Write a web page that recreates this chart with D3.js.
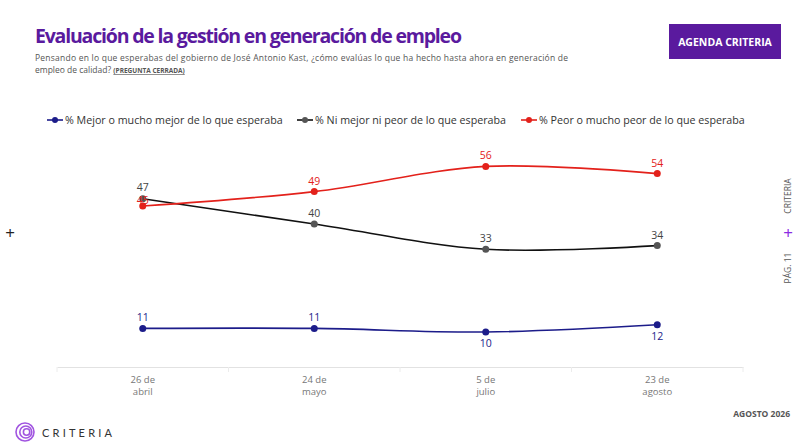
<!DOCTYPE html>
<html>
<head>
<meta charset="utf-8">
<script src="https://cdn.jsdelivr.net/npm/d3@7"></script>
<style>
  html, body { margin: 0; padding: 0; background: #fff; }
  svg { display: block; font-family: "Open Sans", sans-serif; }
</style>
</head>
<body>
<div id="chart"></div>
<script>
// datos
const fechas = ["26 de|abril", "24 de|mayo", "5 de|julio", "23 de|agosto"];
const mejor = [11, 11, 10, 12];
const niMejor = [47, 40, 33, 34];
const peor = [45, 49, 56, 54];
const nombresSeries = [
  "% Mejor o mucho mejor de lo que esperaba",
  "% Ni mejor ni peor de lo que esperaba",
  "% Peor o mucho peor de lo que esperaba"
];

const width = 800, height = 448;
const purple = "#5a1a9e";

// estilo de cada serie; labelDy = desplazamiento de la etiqueta respecto al punto
const series = [
  { name: nombresSeries[0], values: mejor, line: "#1c1c8a", dot: "#1c1c8a", label: "#1c1c8a", labelDy: [-7, -7, 15, 15] },
  { name: nombresSeries[1], values: niMejor, line: "#111", dot: "#555", label: "#444", labelDy: [-8, -7, -7, -7] },
  { name: nombresSeries[2], values: peor, line: "#e3211b", dot: "#e3211b", label: "#e3211b", labelDy: [-2, -7, -7, -7] }
];

const svg = d3.select("#chart").append("svg")
  .attr("width", width)
  .attr("height", height);

// titulo
svg.append("text")
  .attr("x", 35).attr("y", 43)
  .style("font-size", "19.5px").style("font-weight", "700")
  .style("fill", purple)
  .attr("textLength", 427)
  .text("Evaluación de la gestión en generación de empleo");

svg.append("text")
  .attr("x", 35).attr("y", 61)
  .style("font-size", "8.5px").style("fill", "#555")
  .attr("textLength", 533)
  .text("Pensando en lo que esperabas del gobierno de José Antonio Kast, ¿cómo evalúas lo que ha hecho hasta ahora en generación de");

const sub2 = svg.append("text")
  .attr("x", 35).attr("y", 73)
  .style("font-size", "8.5px").style("fill", "#555");
sub2.append("tspan").text("empleo de calidad? ");
sub2.append("tspan")
  .style("font-size", "6.5px").style("font-weight", "700")
  .style("text-decoration", "underline")
  .text("(PREGUNTA CERRADA)");

// caja agenda
svg.append("rect")
  .attr("x", 669).attr("y", 24).attr("width", 112).attr("height", 35)
  .style("fill", purple);
svg.append("text")
  .attr("x", 725).attr("y", 46)
  .attr("text-anchor", "middle")
  .style("font-size", "10.5px").style("font-weight", "700").style("fill", "#fff")
  .text("AGENDA CRITERIA");

// escalas
const x = d3.scaleBand().domain(fechas).range([57, 743]);
const y = d3.scaleLinear().domain([0, 60]).range([368, 152]);

// eje x
const axis = svg.append("g")
  .attr("transform", "translate(0,367)")
  .call(d3.axisBottom(x).tickSize(0).tickFormat(""));
axis.select(".domain").attr("stroke", "#e2e2e2");

svg.selectAll(".sep")
  .data(d3.range(fechas.length + 1))
  .enter().append("line")
  .attr("x1", d => 57 + d * x.step()).attr("x2", d => 57 + d * x.step())
  .attr("y1", 367).attr("y2", 372)
  .attr("stroke", "#ececec");

fechas.forEach(f => {
  const t = svg.append("text")
    .attr("x", x(f) + x.bandwidth() / 2).attr("y", 383)
    .attr("text-anchor", "middle")
    .style("font-size", "9.5px").style("fill", "#777");
  f.split("|").forEach((p, i) => {
    t.append("tspan").attr("x", x(f) + x.bandwidth() / 2).attr("dy", i ? 12 : 0).text(p);
  });
});

const cx = i => x(fechas[i]) + x.bandwidth() / 2;
const line = d3.line()
  .x((d, i) => cx(i))
  .y(d => y(d))
  .curve(d3.curveCatmullRom.alpha(0.5));

// lineas, puntos, etiquetas
series.forEach(s => {
  svg.append("path")
    .datum(s.values)
    .attr("d", line)
    .attr("fill", "none")
    .attr("stroke", s.line)
    .attr("stroke-width", 1.6);

  svg.selectAll(null)
    .data(s.values)
    .enter().append("circle")
    .attr("cx", (d, i) => cx(i))
    .attr("cy", d => y(d))
    .attr("r", 3.5)
    .attr("fill", s.dot);

  svg.selectAll(null)
    .data(s.values)
    .enter().append("text")
    .attr("x", (d, i) => cx(i))
    .attr("y", (d, i) => y(d) + s.labelDy[i])
    .attr("text-anchor", "middle")
    .style("font-size", "10.5px")
    .style("fill", s.label)
    .text(d => d);
});

// leyenda
const legendX = [47, 297, 521];
series.forEach((s, i) => {
  const g = svg.append("g").attr("transform", "translate(" + legendX[i] + ",120)");
  g.append("line").attr("x1", 0).attr("x2", 16).attr("y1", 0).attr("y2", 0)
    .attr("stroke", s.line).attr("stroke-width", 1.6);
  g.append("circle").attr("cx", 8).attr("cy", 0).attr("r", 3).attr("fill", s.dot);
  g.append("text").attr("x", 18).attr("y", 4)
    .style("font-size", "10.7px").style("fill", "#333")
    .text(s.name);
});

// margenes
svg.append("text").attr("x", 10).attr("y", 239).attr("text-anchor", "middle")
  .style("font-size", "17px").style("fill", "#222").text("+");
svg.append("text").attr("x", 788).attr("y", 239).attr("text-anchor", "middle")
  .style("font-size", "17px").style("fill", "#8a2be2").text("+");
svg.append("text")
  .attr("transform", "translate(791,196) rotate(-90)")
  .attr("text-anchor", "middle")
  .style("font-size", "8.5px").style("fill", "#555")
  .text("CRITERIA");
svg.append("text")
  .attr("transform", "translate(791,268) rotate(-90)")
  .attr("text-anchor", "middle")
  .style("font-size", "8.5px").style("fill", "#555")
  .text("PÁG. 11");

svg.append("text").attr("x", 790).attr("y", 417).attr("text-anchor", "end")
  .style("font-size", "8.5px").style("font-weight", "700").style("fill", "#555")
  .text("AGOSTO 2026");

// logo
const logo = svg.append("g").attr("transform", "translate(25,432)");
[9, 6, 3.2].forEach((r, i) => {
  logo.append("circle").attr("cx", i * 0.8).attr("cy", 0).attr("r", r)
    .attr("fill", "none").attr("stroke", "#a155e0").attr("stroke-width", 1.6);
});
svg.append("text").attr("x", 42).attr("y", 437)
  .style("font-size", "11px").style("letter-spacing", "3.2px").style("fill", "#333")
  .style("font-family", "Lato, sans-serif")
  .text("CRITERIA");
</script>
</body>
</html>
